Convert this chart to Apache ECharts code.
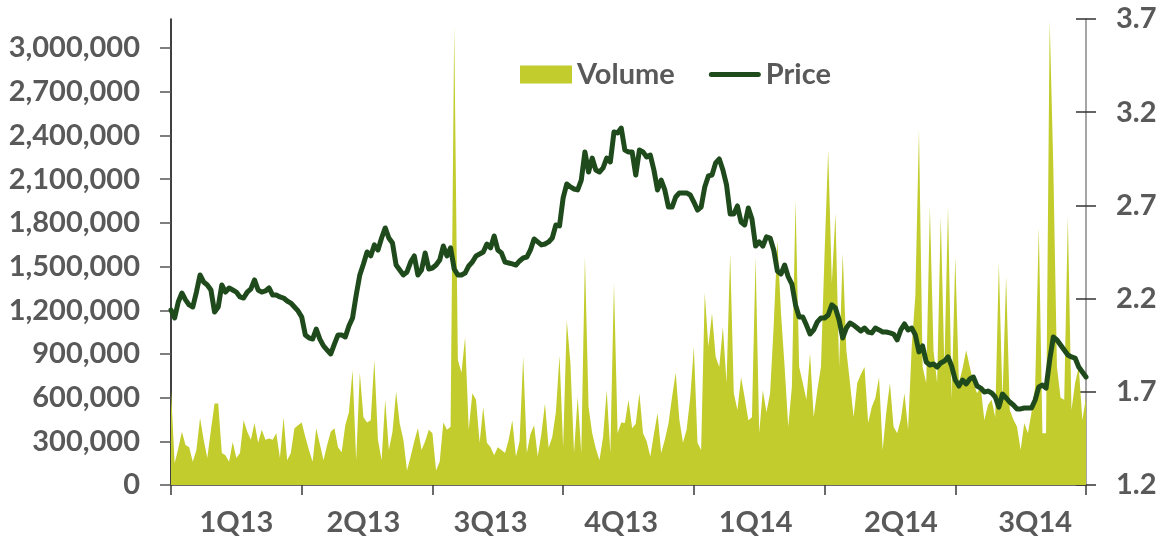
<!DOCTYPE html>
<html>
<head>
<meta charset="utf-8">
<script src="https://cdn.jsdelivr.net/npm/echarts@6.0.0/dist/echarts.min.js"></script>
<style>
  html, body { margin: 0; padding: 0; background: #fff; }
  #chart { width: 1164px; height: 540px; }
</style>
</head>
<body>
<div id="chart"></div>
<script>
  // quarters on the x axis, 36 sample points per quarter (+1 closing point)
  const quarters = ['1Q13', '2Q13', '3Q13', '4Q13', '1Q14', '2Q14', '3Q14']
  const pointsPerQuarter = 36

  // daily traded volume (shares)
  const volume = [
    // 1Q13
    650000, 150000, 250000, 365000, 275000, 260000, 160000, 240000, 460000, 310000, 185000, 380000,
    560000, 560000, 220000, 205000, 160000, 295000, 185000, 220000, 445000, 365000, 310000, 425000,
    290000, 380000, 310000, 320000, 310000, 355000, 185000, 465000, 170000, 220000, 390000, 410000,
    // 2Q13
    430000, 330000, 240000, 160000, 390000, 280000, 170000, 275000, 365000, 390000, 260000, 225000,
    410000, 500000, 790000, 170000, 770000, 465000, 430000, 445000, 860000, 310000, 170000, 585000,
    240000, 365000, 640000, 420000, 310000, 100000, 195000, 300000, 390000, 240000, 300000, 380000,
    // 3Q13
    355000, 100000, 160000, 430000, 380000, 400000, 3150000, 860000, 770000, 1015000, 380000, 630000,
    585000, 290000, 535000, 290000, 260000, 205000, 260000, 240000, 220000, 310000, 445000, 195000,
    300000, 880000, 220000, 350000, 410000, 195000, 350000, 560000, 255000, 330000, 500000, 890000,
    // 4Q13
    260000, 1130000, 840000, 220000, 605000, 220000, 1565000, 535000, 355000, 250000, 170000, 330000,
    650000, 220000, 1385000, 355000, 430000, 425000, 585000, 390000, 420000, 630000, 355000, 300000,
    195000, 350000, 495000, 220000, 310000, 420000, 605000, 770000, 450000, 290000, 380000, 600000,
    // 1Q14
    950000, 290000, 240000, 1320000, 950000, 1180000, 880000, 810000, 1085000, 700000, 1590000, 630000,
    515000, 740000, 600000, 445000, 465000, 1565000, 355000, 650000, 500000, 630000, 1100000, 1680000,
    1180000, 810000, 400000, 675000, 1955000, 810000, 700000, 585000, 905000, 465000, 650000, 810000,
    // 2Q14
    1590000, 2300000, 1385000, 1865000, 810000, 1590000, 925000, 700000, 465000, 700000, 760000, 810000,
    425000, 535000, 600000, 740000, 240000, 500000, 700000, 400000, 355000, 450000, 630000, 380000,
    950000, 1300000, 2440000, 810000, 700000, 1910000, 925000, 700000, 1840000, 810000, 1910000, 585000,
    // 3Q14
    1565000, 700000, 800000, 925000, 810000, 700000, 630000, 675000, 445000, 550000, 585000, 465000,
    1525000, 585000, 1430000, 515000, 450000, 400000, 240000, 425000, 355000, 500000, 675000, 1770000,
    355000, 355000, 3190000, 2180000, 810000, 600000, 585000, 1840000, 515000, 700000, 810000, 445000, 605000
  ]

  // share price
  const price = [
    // 1Q13
    2.139, 2.096, 2.182, 2.230, 2.193, 2.166, 2.155, 2.235, 2.327, 2.289, 2.273, 2.246,
    2.128, 2.155, 2.273, 2.235, 2.257, 2.246, 2.235, 2.209, 2.203, 2.235, 2.252, 2.300,
    2.246, 2.235, 2.241, 2.257, 2.219, 2.219, 2.209, 2.203, 2.187, 2.176, 2.155, 2.134,
    // 2Q13
    2.101, 2.005, 1.989, 1.983, 2.037, 1.983, 1.946, 1.924, 1.903, 1.956, 2.005, 2.005,
    1.994, 2.053, 2.096, 2.219, 2.327, 2.386, 2.450, 2.429, 2.488, 2.461, 2.525, 2.579,
    2.525, 2.498, 2.380, 2.353, 2.327, 2.343, 2.396, 2.429, 2.327, 2.353, 2.445, 2.359,
    // 3Q13
    2.364, 2.380, 2.407, 2.482, 2.429, 2.472, 2.359, 2.327, 2.327, 2.337, 2.375, 2.396,
    2.429, 2.439, 2.450, 2.493, 2.472, 2.536, 2.461, 2.445, 2.396, 2.391, 2.386, 2.380,
    2.402, 2.418, 2.423, 2.461, 2.520, 2.504, 2.488, 2.493, 2.504, 2.525, 2.595, 2.590,
    // 4Q13
    2.740, 2.815, 2.799, 2.788, 2.783, 2.836, 2.987, 2.879, 2.954, 2.890, 2.879, 2.901,
    2.954, 2.933, 3.094, 3.089, 3.115, 2.997, 2.987, 2.987, 2.863, 2.997, 2.987, 2.960,
    2.970, 2.890, 2.783, 2.836, 2.783, 2.691, 2.691, 2.745, 2.767, 2.767, 2.767, 2.756,
    // 1Q14
    2.718, 2.675, 2.691, 2.799, 2.858, 2.863, 2.928, 2.949, 2.890, 2.810, 2.654, 2.654,
    2.697, 2.611, 2.595, 2.686, 2.627, 2.482, 2.504, 2.482, 2.531, 2.525, 2.461, 2.348,
    2.332, 2.380, 2.316, 2.278, 2.166, 2.101, 2.101, 2.058, 2.010, 2.032, 2.075, 2.096,
    // 2Q14
    2.096, 2.112, 2.166, 2.150, 2.085, 1.989, 2.042, 2.069, 2.058, 2.042, 2.026, 2.042,
    2.021, 2.016, 2.042, 2.032, 2.021, 2.021, 2.016, 2.010, 1.978, 2.032, 2.064, 2.032,
    2.042, 2.005, 1.914, 1.946, 1.860, 1.844, 1.849, 1.833, 1.855, 1.865, 1.887, 1.838,
    // 3Q14
    1.763, 1.731, 1.763, 1.742, 1.769, 1.779, 1.731, 1.720, 1.699, 1.704, 1.694, 1.672,
    1.618, 1.688, 1.667, 1.645, 1.629, 1.608, 1.608, 1.613, 1.613, 1.613, 1.656, 1.726,
    1.736, 1.720, 1.871, 1.994, 1.978, 1.951, 1.924, 1.897, 1.887, 1.881, 1.833, 1.806, 1.779
  ]

  // tick labels
  const volumeTicks = [0, 300000, 600000, 900000, 1200000, 1500000, 1800000, 2100000, 2400000, 2700000, 3000000]
  const priceTicks = [1.2, 1.7, 2.2, 2.7, 3.2, 3.7]

  // where each quarter label sits (point index)
  const labelAt = [18, 53, 88, 124, 161, 201, 238]

  const categories = price.map((_, i) => {
    const q = Math.min(Math.floor(i / pointsPerQuarter), quarters.length - 1)
    return quarters[q] + ' ' + (i - q * pointsPerQuarter + 1)
  })

  const textColor = '#595959'
  const font = 'Lato, "Open Sans", sans-serif'
  const labelStyle = { color: textColor, fontSize: 29, fontWeight: 'bold', fontFamily: font }

  const chart = echarts.init(document.getElementById('chart'), null, { renderer: 'canvas' })

  chart.setOption({
    animation: false,
    backgroundColor: '#ffffff',
    grid: { left: 171, right: 78, top: 19, bottom: 55, containLabel: false, outerBoundsMode: 'none' },
    legend: {
      left: 515,
      top: 55,
      itemWidth: 52,
      itemHeight: 18,
      itemGap: 34,
      symbolKeepAspect: true,
      textStyle: labelStyle,
      data: [
        { name: 'Volume', icon: 'rect' },
        // thick line with round ends
        { name: 'Price', icon: 'path://M5,0 L99,0 A5,5 0 0 1 99,10 L5,10 A5,5 0 0 1 5,0 Z' }
      ]
    },
    xAxis: {
      type: 'category',
      data: categories,
      boundaryGap: false,
      axisLine: { lineStyle: { color: '#3a3a3a', width: 1.5 } },
      axisTick: {
        interval: (i) => i % pointsPerQuarter === 0,
        length: 10,
        lineStyle: { color: '#3a3a3a', width: 1.5 }
      },
      axisLabel: Object.assign({
        interval: (i) => labelAt.indexOf(i) >= 0,
        formatter: (v) => v.split(' ')[0],
        margin: 23
      }, labelStyle),
      splitLine: { show: false }
    },
    yAxis: [
      {
        type: 'value',
        position: 'left',
        min: 0,
        max: 3200000,
        axisLine: { show: true, lineStyle: { color: '#000', width: 1.5 } },
        axisTick: {
          show: true,
          length: 11,
          customValues: volumeTicks,
          lineStyle: { color: '#555', width: 1.5 }
        },
        axisLabel: Object.assign({
          customValues: volumeTicks,
          formatter: (v) => v.toLocaleString('en-US'),
          margin: 31
        }, labelStyle),
        splitLine: { show: false }
      },
      {
        type: 'value',
        position: 'right',
        min: 1.2,
        max: 3.7,
        axisLine: { show: true, lineStyle: { color: '#888', width: 1.5 } },
        axisTick: {
          show: true,
          length: 10,
          customValues: priceTicks,
          lineStyle: { color: '#333', width: 1.5 }
        },
        axisLabel: Object.assign({
          customValues: priceTicks,
          formatter: (v) => v.toFixed(1),
          margin: 30
        }, labelStyle),
        splitLine: { show: false }
      },
      {
        // inner half of the crossing ticks on the right axis
        type: 'value',
        position: 'right',
        min: 1.2,
        max: 3.7,
        axisLine: { show: false },
        axisTick: {
          show: true,
          inside: true,
          length: 10,
          customValues: priceTicks,
          lineStyle: { color: '#333', width: 1.5 }
        },
        axisLabel: { show: false },
        splitLine: { show: false }
      }
    ],
    series: [
      {
        name: 'Volume',
        type: 'line',
        data: volume,
        yAxisIndex: 0,
        symbol: 'none',
        color: '#c2cc2c',
        lineStyle: { width: 0 },
        areaStyle: { color: '#c2cc2c', opacity: 1 },
        z: 1
      },
      {
        name: 'Price',
        type: 'line',
        data: price,
        yAxisIndex: 1,
        symbol: 'none',
        color: '#1f4a1c',
        lineStyle: { width: 5, color: '#1f4a1c', join: 'round', cap: 'round' },
        z: 3
      }
    ]
  })

  window.addEventListener('resize', () => chart.resize())
</script>
</body>
</html>
